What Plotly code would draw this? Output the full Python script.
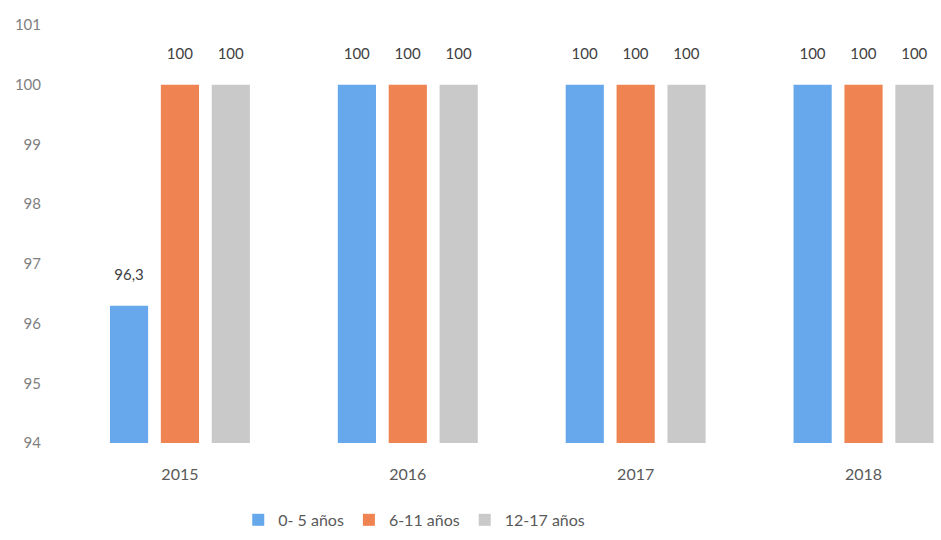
import plotly.graph_objects as go

years = ["2015", "2016", "2017", "2018"]
series_names = ["0- 5 años", "6-11 años", "12-17 años"]
vals_0_5 = [96.3, 100, 100, 100]
vals_6_11 = [100, 100, 100, 100]
vals_12_17 = [100, 100, 100, 100]
colors = ["#67A8EC", "#EF8452", "#C9C9C9"]
y_ticks = [94, 95, 96, 97, 98, 99, 100, 101]

def fmt(v):
    s = f"{v:g}"
    return s.replace(".", ",")

fig = go.Figure()
for name, vals, col in zip(series_names, [vals_0_5, vals_6_11, vals_12_17], colors):
    fig.add_trace(go.Bar(
        x=years, y=[v - 94 for v in vals], base=94, name=name,
        marker=dict(color=col, line=dict(width=0)),
        text=[fmt(v) + "<br> " for v in vals], textposition="outside",
        textfont=dict(family="Lato, sans-serif", size=15, color="#404040"),
        cliponaxis=False,
    ))

fig.update_layout(
    width=941, height=540,
    margin=dict(l=66, r=0, t=25, b=97, autoexpand=False),
    paper_bgcolor="white", plot_bgcolor="white",
    barmode="group", bargap=0.33, bargroupgap=0.25,
    font=dict(family="Lato, sans-serif", color="#595959"),
    xaxis=dict(range=[-0.5, 3.34], showgrid=False, showline=False, ticks="",
               automargin=False,
               tickfont=dict(size=16, color="#595959"), ticklabelstandoff=20),
    yaxis=dict(range=[94, 101], tickvals=y_ticks, showgrid=False, zeroline=False,
               automargin=False,
               showline=False, ticks="", tickfont=dict(size=15, color="#7F7F7F"),
               ticklabelstandoff=24),
    legend=dict(orientation="h", x=0.398, xanchor="center", y=-0.184, yanchor="middle",
                font=dict(size=16, color="#595959"), itemwidth=30, traceorder="normal"),
    showlegend=True,
)
fig.write_html("out.html", post_script="document.body.style.margin='0';",
               config={"displayModeBar": False})
